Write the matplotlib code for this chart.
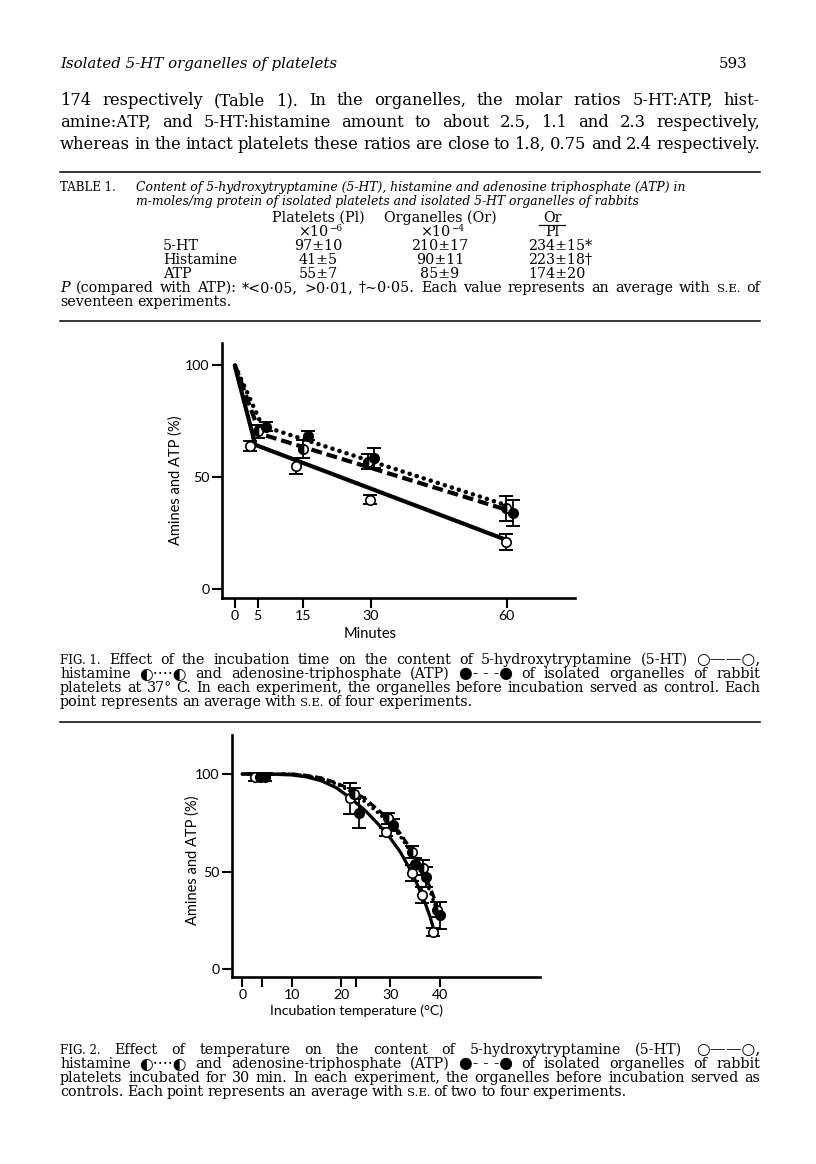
import matplotlib
matplotlib.use('Agg')
import matplotlib.pyplot as plt
from matplotlib.lines import Line2D

W, H = 816, 1164
DVS = ['DejaVu Serif', 'DejaVu Sans']
SERIF = DVS
SANS = ['Lato', 'DejaVu Sans']

# ---------------- Table 1 ----------------
table_rows = ['5-HT', 'Histamine', 'ATP']
platelets = ['97±10', '41±5', '55±7']
organelles = ['210±17', '90±11', '85±9']
ratio = ['234±15*', '223±18†', '174±20']

# ---------------- Fig. 1 (time) ----------------
fig1_xticks = [0, 5, 15, 30, 60]
fig1_yticks = [0, 50, 100]
ht_t = [3.3, 13.5, 29.8, 59.8]
ht_y = [64.0, 55.1, 40.0, 21.3]
ht_e = [2.2, 3.4, 2.0, 3.6]
his_t = [5.0, 15.0, 29.4, 59.8]
his_y = [70.5, 62.6, 57.0, 36.2]
his_e = [3.0, 4.0, 3.5, 5.6]
atp_t = [6.8, 16.2, 30.7, 61.4]
atp_y = [72.5, 68.6, 58.6, 34.0]
atp_e = [2.0, 2.0, 4.5, 5.8]
ht_line_t = [0, 4.5, 60]
ht_line_y = [99.5, 64.5, 22.0]
his_line_t = [0, 6, 60]
his_line_y = [100, 73, 37.5]
atp_line_t = [0, 5.5, 60]
atp_line_y = [100, 69.5, 35.5]

# ---------------- Fig. 2 (temperature) ----------------
fig2_xticks = [0, 10, 20, 30, 40]
fig2_minor = [4, 23]
fig2_yticks = [0, 50, 100]
ht2_T = [2.5, 21.9, 29.2, 34.3, 36.3, 38.7]
ht2_y = [98.5, 87.5, 70.4, 49.1, 37.9, 19.0]
ht2_e = [2.0, 8.0, 2.0, 4.0, 4.0, 2.0]
his2_T = [3.5, 22.6, 29.6, 34.3, 36.6, 39.5]
his2_y = [98.5, 90.0, 77.2, 60.1, 52.0, 30.5]
his2_e = [2.0, 3.0, 3.0, 3.0, 4.0, 4.0]
atp2_T = [4.5, 23.6, 30.6, 35.0, 37.3, 40.1]
atp2_y = [98.5, 80.1, 73.8, 54.1, 47.3, 27.6]
atp2_e = [2.0, 8.0, 3.0, 3.0, 5.0, 7.0]
ht2_curve_T = [0, 5, 10, 13, 16, 19, 22, 25, 28, 30, 32, 34, 35.5, 37, 38, 38.8]
ht2_curve_y = [100, 100, 99.5, 98.5, 96.5, 93, 87.5, 81, 73, 67, 60, 51, 43, 34, 27, 20]
his2_curve_T = [0, 5, 10, 13, 16, 19, 22, 25, 28, 30, 32, 34, 35.5, 37, 38, 39, 39.7]
his2_curve_y = [100, 100, 100, 99, 97.5, 95, 91, 85.5, 79, 74, 68, 60.5, 54, 46, 40, 33, 28]
atp2_curve_T = [0, 5, 10, 13, 16, 19, 22, 25, 28, 30, 32, 34, 35.5, 37, 38, 39, 40]
atp2_curve_y = [100, 100, 100, 99.3, 98, 95.5, 92, 87, 80.5, 75.5, 69.5, 62, 55.5, 48, 42, 35.5, 27.5]

fig = plt.figure(figsize=(W / 100, H / 100), dpi=100)
renderer = fig.canvas.get_renderer()


def put(x, y, s, size=10, family=SERIF, ha='left', **kw):
    return fig.text(x / W, 1 - y / H, s, fontsize=size, family=family,
                    ha=ha, va='baseline', **kw)


def split(words):
    return [w if isinstance(w, tuple) else (w, {}) for w in words]


def natural_width(words, size, family=SERIF):
    total = 0
    ws = split(words)
    for s, extra in ws:
        d = dict(extra)
        rel = d.pop('rel', 1.0)
        t = fig.text(0, 0, s, fontsize=size * rel, family=d.pop('family', family), **d)
        total += t.get_window_extent(renderer).width
        t.remove()
    return total + (len(ws) - 1) * size * 100 / 72 * 0.25


def fit(words, target, family=SERIF):
    return 10.0 * target / natural_width(words, 10.0, family)


def line(y, words, x0=60, x1=760, justify=True, size=10, family=SERIF, **kw):
    texts = []
    for s, extra in split(words):
        d = dict(kw)
        d.update(extra)
        rel = d.pop('rel', 1.0)
        fam = d.pop('family', family)
        texts.append(put(0, y, s, size=size * rel, family=fam, **d))
    widths = [t.get_window_extent(renderer).width for t in texts]
    if justify and len(texts) > 1:
        gap = (x1 - x0 - sum(widths)) / (len(texts) - 1)
    else:
        gap = size * 100 / 72 * 0.25
    x = x0
    for t, wd in zip(texts, widths):
        t.set_x(x / W)
        x += wd + gap
    return texts


def hrule(y, x0=60, x1=760, lw=1.1):
    fig.add_artist(Line2D([x0 / W, x1 / W], [1 - y / H] * 2, color='black', lw=lw))


# ---------------- page text ----------------
head = 'Isolated 5-HT organelles of platelets'
hs = fit([(w, dict(style='italic')) for w in head.split()], 275)
put(60, 68, head, size=hs, style='italic')
put(747, 68, '593', size=hs, ha='right')

body = [
    '174 respectively (Table 1).  In the organelles, the molar ratios 5-HT:ATP, hist-',
    'amine:ATP, and 5-HT:histamine amount to about 2.5, 1.1 and 2.3 respectively,',
    'whereas in the intact platelets these ratios are close to 1.8, 0.75 and 2.4 respectively.',
]
bs = fit(body[2].split(), 697)
for i, s in enumerate(body):
    line(105 + 22 * i, s.split(), size=bs)

hrule(172)

# ---------------- table ----------------
pline = [('P', dict(style='italic')), '(compared', 'with', 'ATP):', '*<0·05,', '>0·01,',
         '†∼0·05.', 'Each', 'value', 'represents', 'an', 'average', 'with',
         ('S.E.', dict(rel=0.8)), 'of']
TS = min(fit(pline, 680), 10.3)
title1 = 'Content of 5-hydroxytryptamine (5-HT), histamine and adenosine triphosphate (ATP) in'
title2 = 'm-moles/mg protein of isolated platelets and isolated 5-HT organelles of rabbits'
tts = min(fit([(w, dict(style='italic')) for w in title1.split()], 544), 10.3)
put(60, 191, 'TABLE 1.', size=TS * 0.82)
put(136, 191, title1, size=tts, style='italic')
put(136, 205, title2, size=tts, style='italic')
col_x = [318, 440, 552]
put(col_x[0], 222, 'Platelets (Pl)', size=TS, ha='center')
put(col_x[1], 222, 'Organelles (Or)', size=TS, ha='center')
put(col_x[2], 222, 'Or', size=TS, ha='center')
hrule(225, col_x[2] - 13, col_x[2] + 13, lw=0.9)
put(col_x[2], 236, 'Pl', size=TS, ha='center')
for cx, ex in ((col_x[0], '−6'), (col_x[1], '−4')):
    put(cx - 5, 236, '×10', size=TS, ha='center')
    put(cx + 11, 231, ex, size=TS * 0.62, ha='left')
for i, name in enumerate(table_rows):
    yy = 250 + 14 * i
    put(163, yy, name, size=TS)
    put(col_x[0], yy, platelets[i], size=TS, ha='center')
    put(col_x[1], yy, organelles[i], size=TS, ha='center')
    put(col_x[2] - 24, yy, ratio[i], size=TS, ha='left')
line(292, pline, size=TS)
line(306, ['seventeen', 'experiments.'], justify=False, size=TS)
hrule(321)


# ---------------- axes helpers ----------------
def axes_px(l, r, t, b):
    return fig.add_axes([l / W, 1 - b / H, (r - l) / W, (b - t) / H])


def style(ax):
    for s in ('top', 'right'):
        ax.spines[s].set_visible(False)
    for s in ('left', 'bottom'):
        ax.spines[s].set_linewidth(1.9)
    ax.tick_params(direction='out', length=7, width=1.5, labelsize=10.2, pad=1.8)
    for lab in ax.get_xticklabels() + ax.get_yticklabels():
        lab.set_family(SANS)
    ax.patch.set_alpha(0)


def series(ax, t, y, e, kind):
    ax.errorbar(t, y, yerr=e, fmt='none', ecolor='black', elinewidth=1.3,
                capsize=5, capthick=1.4, zorder=4)
    common = dict(ls='none', marker='o', ms=6.8, mec='black', mew=1.2, zorder=5)
    if kind == 'open':
        ax.plot(t, y, mfc='white', **common)
    elif kind == 'half':
        ax.plot(t, y, fillstyle='left', mfc='black', markerfacecoloralt='white', **common)
    else:
        ax.plot(t, y, mfc='black', **common)


def curves(ax, a, b, c, lw, dot_lw):
    ax.plot(a[0], a[1], color='black', lw=lw, solid_capstyle='round',
            solid_joinstyle='round', zorder=3)
    ax.plot(b[0], b[1], color='black', lw=dot_lw, dashes=(0.01, 1.6),
            dash_capstyle='round', zorder=3)
    ax.plot(c[0], c[1], color='black', lw=lw, dashes=(2.6, 1.2), zorder=3)


# ---------------- Fig. 1 ----------------
ax1 = axes_px(222, 575, 343, 598)
ax1.set_xlim(-2.87, 75.1)
ax1.set_ylim(-3.9, 110)
ax1.set_xticks(fig1_xticks)
ax1.set_yticks(fig1_yticks)
style(ax1)
curves(ax1, (ht_line_t, ht_line_y), (his_line_t, his_line_y), (atp_line_t, atp_line_y), 3.0, 3.3)
series(ax1, ht_t, ht_y, ht_e, 'open')
series(ax1, his_t, his_y, his_e, 'half')
series(ax1, atp_t, atp_y, atp_e, 'full')
fig.text(176 / W, 1 - 480 / H, 'Amines and ATP (%)', rotation=90, ha='center', va='center',
         fontsize=10.5, family=SANS)
fig.text(370 / W, 1 - 634 / H, 'Minutes', ha='center', va='center', fontsize=10.5, family=SANS)

c3 = 'platelets at 37° C.  In each experiment, the organelles before incubation served as control.  Each'.split()
CS = min(fit(c3, 690), 10.3)
SY = dict(rel=1.1)
c1 = [('FIG. 1.', dict(rel=0.82)), 'Effect', 'of', 'the', 'incubation', 'time', 'on', 'the',
      'content', 'of', '5-hydroxytryptamine', '(5-HT)', ('○——○,', SY)]
c2 = ['histamine', ('◐····◐', SY), 'and', 'adenosine-triphosphate', '(ATP)', ('●- - -●', SY), 'of',
      'isolated', 'organelles', 'of', 'rabbit']
c4 = ['point', 'represents', 'an', 'average', 'with', ('S.E.', dict(rel=0.8)), 'of', 'four',
      'experiments.']
line(664, c1, size=CS)
line(678, c2, size=CS)
line(692, c3, size=CS)
line(706, c4, justify=False, size=CS)
hrule(722)

# ---------------- Fig. 2 ----------------
ax2 = axes_px(232, 540, 735, 977)
ax2.set_xlim(-2.1, 60.3)
ax2.set_ylim(-4.1, 120)
ax2.set_xticks(fig2_xticks)
ax2.set_xticks(fig2_minor, minor=True)
ax2.set_yticks(fig2_yticks)
style(ax2)
ax2.tick_params(which='minor', direction='out', length=7, width=1.5)
curves(ax2, (ht2_curve_T, ht2_curve_y), (his2_curve_T, his2_curve_y),
       (atp2_curve_T, atp2_curve_y), 2.3, 2.6)
series(ax2, ht2_T, ht2_y, ht2_e, 'open')
series(ax2, his2_T, his2_y, his2_e, 'half')
series(ax2, atp2_T, atp2_y, atp2_e, 'full')
fig.text(193 / W, 1 - 860 / H, 'Amines and ATP (%)', rotation=90, ha='center', va='center',
         fontsize=10.5, family=SANS)
fig.text(357 / W, 1 - 1011 / H, 'Incubation temperature (°C)', ha='center', va='center',
         fontsize=10.2, family=SANS)

d1 = [('FIG. 2.', dict(rel=0.82)), 'Effect', 'of', 'temperature', 'on', 'the', 'content', 'of',
      '5-hydroxytryptamine', '(5-HT)', ('○——○,', SY)]
d2 = c2
d3 = 'platelets incubated for 30 min. In each experiment, the organelles before incubation served as'.split()
d4 = ['controls.', 'Each', 'point', 'represents', 'an', 'average', 'with', ('S.E.', dict(rel=0.8)),
      'of', 'two', 'to', 'four', 'experiments.']
line(1054, d1, size=CS)
line(1068, d2, size=CS)
line(1082, d3, size=CS)
line(1096, d4, justify=False, size=CS)

fig.savefig('out.png', dpi=100)
